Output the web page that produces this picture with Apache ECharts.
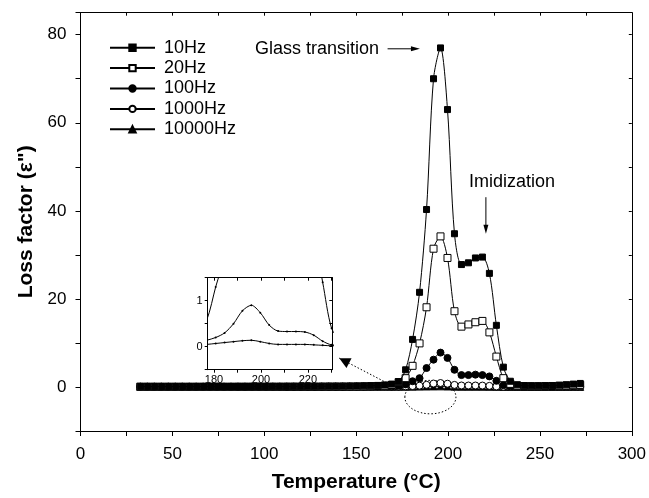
<!DOCTYPE html>
<html><head><meta charset="utf-8">
<script src="https://cdn.jsdelivr.net/npm/echarts@6/dist/echarts.min.js"></script>
<style>html,body{margin:0;padding:0;background:#fff}#c{width:649px;height:498px}</style>
</head><body><div id="c"></div>
<script>
// Temperatures (°C) of the measurement points
const temps = [32.5,36.3,40.1,43.9,47.7,51.5,55.3,59.1,62.9,66.7,70.5,74.3,78.1,81.9,85.7,89.5,93.3,97.1,100.9,104.7,
  108.5,112.3,116.1,119.9,123.7,127.5,131.3,135.1,138.9,142.7,146.5,150.3,154.1,157.9,161.7,165.5,169.3,173.1,176.9,180.7,
  184.5,188.3,192.1,195.9,199.7,203.5,207.3,211.1,214.9,218.7,222.5,226.3,230.1,233.9,237.7,241.5,245.3,249.1,252.9,256.7,
  260.5,264.3,268.1,271.9];
const hz10 = [0.12,0.11,0.11,0.1,0.1,0.1,0.1,0.1,0.1,0.1,0.1,0.1,0.1,0.1,0.1,0.1,0.11,0.11,0.11,0.12,
  0.12,0.12,0.13,0.13,0.14,0.14,0.15,0.16,0.17,0.18,0.2,0.22,0.25,0.3,0.35,0.45,0.65,1.2,3.9,10.8,
  21.5,40.3,70.0,77.0,63.0,34.8,27.8,28.2,29.3,29.5,25.8,14.0,4.5,1.3,0.5,0.3,0.25,0.25,0.28,0.32,
  0.4,0.5,0.65,0.8];
const hz20 = [0.08,0.08,0.08,0.08,0.08,0.08,0.08,0.08,0.08,0.08,0.08,0.08,0.08,0.08,0.09,0.09,0.09,0.09,0.09,0.09,
  0.09,0.1,0.1,0.1,0.1,0.1,0.1,0.11,0.11,0.11,0.12,0.13,0.15,0.18,0.22,0.28,0.45,1.1,2.0,4.8,
  9.9,18.1,31.4,34.2,29.3,17.2,13.7,14.2,14.7,15.0,12.4,6.9,2.0,0.7,0.3,0.2,0.18,0.18,0.2,0.22,
  0.26,0.32,0.4,0.5];
const hz100 = [0.06,0.06,0.06,0.06,0.06,0.06,0.06,0.06,0.06,0.06,0.06,0.06,0.06,0.06,0.06,0.06,0.06,0.06,0.06,0.06,
  0.06,0.06,0.06,0.07,0.07,0.07,0.07,0.07,0.07,0.07,0.08,0.08,0.09,0.1,0.12,0.15,0.2,0.3,0.58,1.3,
  2.0,4.3,6.2,7.8,6.6,3.9,2.7,2.7,2.8,2.7,2.4,1.4,0.4,0.15,0.1,0.09,0.09,0.1,0.1,0.11,
  0.13,0.15,0.18,0.22];
const hz1000 = [0.04,0.04,0.04,0.04,0.04,0.04,0.04,0.04,0.04,0.04,0.04,0.04,0.04,0.04,0.04,0.04,0.04,0.04,0.04,0.04,
  0.04,0.04,0.04,0.04,0.04,0.04,0.04,0.04,0.04,0.04,0.05,0.05,0.05,0.06,0.06,0.07,0.08,0.09,0.14,0.2,
  0.3,0.5,0.78,0.9,0.74,0.47,0.34,0.33,0.33,0.32,0.25,0.12,0.04,0.03,0.03,0.03,0.03,0.03,0.03,0.03,
  0.04,0.04,0.05,0.05];
const hz10000 = [0.03,0.03,0.03,0.03,0.03,0.03,0.03,0.03,0.03,0.03,0.03,0.03,0.03,0.03,0.03,0.03,0.03,0.03,0.03,0.03,
  0.03,0.03,0.03,0.03,0.03,0.03,0.03,0.03,0.03,0.03,0.03,0.03,0.03,0.03,0.03,0.03,0.03,0.04,0.05,0.07,
  0.09,0.11,0.13,0.14,0.11,0.07,0.05,0.05,0.05,0.05,0.04,0.03,0.02,0.02,0.02,0.02,0.02,0.02,0.02,0.02,
  0.02,0.02,0.02,0.02];
const seriesNames = ['10Hz','20Hz','100Hz','1000Hz','10000Hz'];
const xTickLabels = [0,50,100,150,200,250,300];
const yTickLabels = [0,20,40,60,80];
const insetXLabels = [180,200,220];
const insetXTicks = [180,190,200,210,220,230];
const insetYLabels = [0,1];

const FONT = 'Liberation Sans, Arial, sans-serif';
const pairs = arr => temps.map((t,i)=>[t,arr[i]]);
const values = [hz10,hz20,hz100,hz1000,hz10000];
const symbols = ['rect','rect','circle','circle','triangle'];
const filled = [true,false,true,false,true];
const sizes = [6,7,7,7,7];

const chart = echarts.init(document.getElementById('c'), null, {renderer:'canvas'});
const mainSeries = seriesNames.map((n,i)=>({
  name:n, type:'line', xAxisIndex:0, yAxisIndex:0, data:pairs(values[i]),
  smooth:0.3, symbol:symbols[i], symbolSize:sizes[i], showAllSymbol:true,
  lineStyle:{color:'#000',width:1},
  itemStyle:{color:filled[i]?'#000':'#fff',borderColor:'#000',borderWidth:1},
  z: 10-i
}));
const insetSeries = [2,3,4].map(i=>({
  name:'inset '+seriesNames[i], type:'line', xAxisIndex:2, yAxisIndex:2, data:pairs(values[i]),
  smooth:0.3, symbol:'circle', symbolSize:2, showAllSymbol:true, clip:true,
  lineStyle:{color:'#000',width:1}, itemStyle:{color:'#000'}, z:12
}));

const axisBase = {type:'value', axisLine:{show:true,onZero:false,lineStyle:{color:'#000',width:1}}, splitLine:{show:false}};
chart.setOption({
  animation:false,
  backgroundColor:'#fff',
  grid:[
    {left:80.5, right:17, top:12.7, bottom:64.7, show:false},
    {left:207.7, top:277.7, width:124.6, height:92, show:false}
  ],
  legend:{
    data:seriesNames, orient:'vertical', left:104, top:32.7, itemWidth:45, itemHeight:8, itemGap:0.4,
    textStyle:{fontFamily:FONT,fontSize:18,color:'#000',lineHeight:20,padding:[0,0,0,4]},
    selectedMode:false
  },
  xAxis:[
    Object.assign({}, axisBase, {gridIndex:0, min:0, max:300, interval:25, position:'bottom',
      axisTick:{show:true,length:5,inside:false,lineStyle:{color:'#000'}},
      axisLabel:{fontFamily:FONT,fontSize:17,color:'#000',margin:15,formatter:v=>xTickLabels.includes(v)?String(v):''},
      name:'Temperature (°C)', nameLocation:'middle', nameGap:41,
      nameTextStyle:{fontFamily:FONT,fontSize:21,fontWeight:'bold',color:'#000'}}),
    Object.assign({}, axisBase, {gridIndex:0, min:0, max:300, interval:25, position:'top',
      axisTick:{show:true,length:3,inside:true,lineStyle:{color:'#000'}}, axisLabel:{show:false}}),
    Object.assign({}, axisBase, {gridIndex:1, min:177.3, max:230.4, position:'bottom',
      axisTick:{show:true,length:3,inside:false,customValues:insetXTicks,lineStyle:{color:'#000'}},
      axisLabel:{fontFamily:FONT,fontSize:11,color:'#000',margin:5,customValues:insetXLabels}}),
    Object.assign({}, axisBase, {gridIndex:1, min:177.3, max:230.4, position:'top',
      axisTick:{show:true,length:3,inside:true,customValues:insetXTicks,lineStyle:{color:'#000'}}, axisLabel:{show:false}})
  ],
  yAxis:[
    Object.assign({}, axisBase, {gridIndex:0, min:-10, max:85, interval:10, position:'left',
      axisTick:{show:true,length:5,inside:false,lineStyle:{color:'#000'}},
      axisLabel:{fontFamily:FONT,fontSize:17,color:'#000',margin:14,formatter:v=>yTickLabels.includes(v)?String(v):''},
      name:'Loss factor (ε")', nameLocation:'middle', nameGap:42, nameRotate:90,
      nameTextStyle:{fontFamily:FONT,fontSize:21,fontWeight:'bold',color:'#000'}}),
    Object.assign({}, axisBase, {gridIndex:0, min:-10, max:85, interval:10, position:'right',
      axisTick:{show:true,length:3,inside:true,lineStyle:{color:'#000'}}, axisLabel:{show:false}}),
    Object.assign({}, axisBase, {gridIndex:1, min:-0.5, max:1.5, interval:0.5, position:'left',
      axisTick:{show:true,length:3,inside:false,lineStyle:{color:'#000'}},
      axisLabel:{fontFamily:FONT,fontSize:11,color:'#000',margin:5,formatter:v=>insetYLabels.includes(v)?String(v):''}}),
    Object.assign({}, axisBase, {gridIndex:1, min:-0.5, max:1.5, interval:0.5, position:'right',
      axisTick:{show:true,length:3,inside:true,lineStyle:{color:'#000'}}, axisLabel:{show:false}})
  ],
  series: mainSeries.concat(insetSeries)
});

// Annotations placed in data coordinates of the main plot
const P = (t,v)=>chart.convertToPixel({seriesIndex:0},[t,v]);
function head(tip, from, len, half){
  const dx=tip[0]-from[0], dy=tip[1]-from[1], L=Math.hypot(dx,dy), ux=dx/L, uy=dy/L;
  const bx=tip[0]-ux*len, by=tip[1]-uy*len;
  return [[tip[0],tip[1]],[bx-uy*half,by+ux*half],[bx+uy*half,by-ux*half]];
}
const gtText=P(162.4,76.8), gtA=P(167.1,76.8), gtB=P(184.7,76.8);
const imText=P(211.4,46.5), imA=P(220.6,43.1), imB=P(220.6,34.8);
const dpA=P(168.4,0.56), dpB=P(140.8,6.55);
const elC=P(190.4,-2.3), elR=P(204.3,-2.3), elT=P(190.4,1.5);
const g=[
  {type:'text', x:gtText[0], y:gtText[1], style:{text:'Glass transition', font:'18px '+FONT, fill:'#000', textAlign:'right', textVerticalAlign:'middle'}, z:20},
  {type:'line', shape:{x1:gtA[0],y1:gtA[1],x2:gtB[0]-6,y2:gtB[1]}, style:{stroke:'#000',lineWidth:1}, z:20},
  {type:'polygon', shape:{points:head(gtB,gtA,9,2.5)}, style:{fill:'#000'}, z:20},
  {type:'text', x:imText[0], y:imText[1], style:{text:'Imidization', font:'18px '+FONT, fill:'#000', textAlign:'left', textVerticalAlign:'middle'}, z:20},
  {type:'line', shape:{x1:imA[0],y1:imA[1],x2:imB[0],y2:imB[1]-6}, style:{stroke:'#000',lineWidth:1}, z:20},
  {type:'polygon', shape:{points:head(imB,imA,9,2.5)}, style:{fill:'#000'}, z:20},
  {type:'line', shape:{x1:dpA[0],y1:dpA[1],x2:dpB[0],y2:dpB[1]}, style:{stroke:'#000',lineWidth:1,lineDash:[1.5,2]}, z:20},
  {type:'polygon', shape:{points:head(dpB,dpA,11,5.5)}, style:{fill:'#000'}, z:20},
  {type:'ellipse', shape:{cx:elC[0],cy:elC[1],rx:elR[0]-elC[0],ry:elC[1]-elT[1]}, style:{fill:null,stroke:'#000',lineWidth:1,lineDash:[1.5,2]}, z:1}
];
chart.setOption({graphic:g});
</script></body></html>
